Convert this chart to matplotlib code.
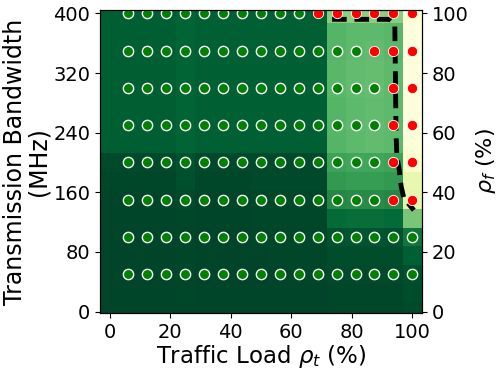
import numpy as np
import matplotlib
matplotlib.use('Agg')
import matplotlib.pyplot as plt

# grid of the heatmap: traffic load (%) and bandwidth (MHz), cell centres
load_cells = [0, 6.25, 12.5, 18.75, 25, 31.25, 37.5, 43.75, 50, 56.25,
              62.5, 68.75, 75, 81.25, 87.5, 93.75, 100]
bw_cells = [0, 25, 50, 75, 100, 125, 150, 175, 200, 225, 250, 275, 300,
            325, 350, 375, 400]

# heatmap values (0 = dark green, 1 = light yellow), one row per bandwidth, bottom row first
heat = [
    [0.00, 0.00, 0.00, 0.00, 0.00, 0.00, 0.00, 0.00, 0.00, 0.00, 0.00, 0.00, 0.01, 0.01, 0.01, 0.01, 0.02],
    [0.00, 0.00, 0.00, 0.00, 0.01, 0.00, 0.00, 0.00, 0.00, 0.00, 0.00, 0.00, 0.01, 0.01, 0.01, 0.01, 0.03],
    [0.00, 0.00, 0.00, 0.00, 0.01, 0.00, 0.00, 0.00, 0.00, 0.00, 0.01, 0.01, 0.02, 0.02, 0.02, 0.02, 0.04],
    [0.00, 0.00, 0.00, 0.00, 0.01, 0.00, 0.00, 0.00, 0.00, 0.01, 0.01, 0.01, 0.03, 0.03, 0.03, 0.03, 0.10],
    [0.00, 0.00, 0.00, 0.00, 0.01, 0.00, 0.00, 0.00, 0.01, 0.01, 0.01, 0.01, 0.05, 0.06, 0.06, 0.05, 0.18],
    [0.00, 0.00, 0.00, 0.00, 0.01, 0.00, 0.00, 0.00, 0.01, 0.01, 0.01, 0.01, 0.14, 0.15, 0.15, 0.14, 0.50],
    [0.00, 0.00, 0.00, 0.00, 0.02, 0.00, 0.00, 0.00, 0.01, 0.01, 0.01, 0.01, 0.26, 0.27, 0.27, 0.26, 0.80],
    [0.01, 0.01, 0.01, 0.01, 0.04, 0.01, 0.01, 0.01, 0.02, 0.02, 0.02, 0.02, 0.32, 0.33, 0.33, 0.32, 0.82],
    [0.02, 0.02, 0.02, 0.02, 0.05, 0.02, 0.02, 0.02, 0.02, 0.02, 0.02, 0.02, 0.35, 0.36, 0.36, 0.35, 0.92],
    [0.09, 0.09, 0.09, 0.09, 0.11, 0.10, 0.10, 0.10, 0.10, 0.10, 0.10, 0.10, 0.42, 0.44, 0.45, 0.44, 0.96],
    [0.09, 0.09, 0.09, 0.09, 0.11, 0.10, 0.10, 0.10, 0.10, 0.10, 0.10, 0.10, 0.42, 0.44, 0.45, 0.44, 0.97],
    [0.09, 0.09, 0.09, 0.09, 0.11, 0.10, 0.10, 0.10, 0.10, 0.10, 0.10, 0.10, 0.42, 0.44, 0.45, 0.44, 0.97],
    [0.09, 0.09, 0.09, 0.09, 0.11, 0.10, 0.10, 0.10, 0.10, 0.10, 0.10, 0.10, 0.43, 0.45, 0.46, 0.44, 0.97],
    [0.09, 0.09, 0.09, 0.09, 0.11, 0.10, 0.10, 0.10, 0.10, 0.10, 0.10, 0.10, 0.43, 0.45, 0.46, 0.44, 0.97],
    [0.09, 0.09, 0.09, 0.09, 0.11, 0.10, 0.10, 0.10, 0.10, 0.10, 0.10, 0.10, 0.42, 0.44, 0.45, 0.43, 0.97],
    [0.09, 0.09, 0.09, 0.09, 0.11, 0.10, 0.10, 0.10, 0.10, 0.10, 0.10, 0.10, 0.42, 0.44, 0.44, 0.43, 0.97],
    [0.09, 0.09, 0.09, 0.09, 0.11, 0.10, 0.10, 0.10, 0.10, 0.10, 0.10, 0.10, 0.54, 0.55, 0.55, 0.54, 0.95],
]

# tested operating points
load_pts = [6.25, 12.5, 18.75, 25, 31.25, 37.5, 43.75, 50, 56.25, 62.5,
            68.75, 75, 81.25, 87.5, 93.75, 100]
bw_pts = [50, 100, 150, 200, 250, 300, 350, 400]
# 1 = feasible (green), 0 = infeasible (red); one row per bandwidth, bottom first
feasible = [
    [1, 1, 1, 1, 1, 1, 1, 1, 1, 1, 1, 1, 1, 1, 1, 1],
    [1, 1, 1, 1, 1, 1, 1, 1, 1, 1, 1, 1, 1, 1, 1, 1],
    [1, 1, 1, 1, 1, 1, 1, 1, 1, 1, 1, 1, 1, 1, 0, 0],
    [1, 1, 1, 1, 1, 1, 1, 1, 1, 1, 1, 1, 1, 1, 0, 0],
    [1, 1, 1, 1, 1, 1, 1, 1, 1, 1, 1, 1, 1, 1, 0, 0],
    [1, 1, 1, 1, 1, 1, 1, 1, 1, 1, 1, 1, 1, 1, 0, 0],
    [1, 1, 1, 1, 1, 1, 1, 1, 1, 1, 1, 1, 1, 0, 0, 0],
    [1, 1, 1, 1, 1, 1, 1, 1, 1, 1, 0, 0, 0, 0, 0, 0],
]

# boundary curve in (rho_t, rho_f)
boundary_load = [73.5, 92.5, 94.2, 94.4, 94.6, 94.9, 95.6, 96.3, 97.2, 100.5]
boundary_rhof = [98.0, 98.0, 96.5, 80.0, 60.0, 52.0, 48.0, 42.0, 38.0, 34.0]

fig = plt.figure(figsize=(4.98, 3.71), dpi=100)
ax = fig.add_axes([0.201, 0.156, 0.646, 0.817])
ax2 = ax.twinx()

# heatmap
ax.pcolormesh(load_cells, bw_cells, np.array(heat), cmap='YlGn_r',
              vmin=0, vmax=1, shading='nearest', zorder=1)

# boundary line, given in rho_f units -> use the right axis transform
ax.plot(boundary_load, boundary_rhof, color='black', lw=3.5,
        dashes=(3, 1.6), transform=ax2.transData, zorder=2)

# operating points
X, Y = np.meshgrid(load_pts, bw_pts)
ok = np.array(feasible) == 1
ax.scatter(X[ok], Y[ok], s=55, c='green', edgecolors='white', linewidths=1.0, zorder=3)
ax.scatter(X[~ok], Y[~ok], s=55, c='red', edgecolors='white', linewidths=0.6, zorder=3)

ax.set_xlim(-3.125, 103.125)
ax.set_ylim(-2.1, 404.5)
ax2.set_ylim(-2.1 / 4, 404.5 / 4)

ax.set_xticks([0, 20, 40, 60, 80, 100])
ax.set_yticks([0, 80, 160, 240, 320, 400])
ax2.set_yticks([0, 20, 40, 60, 80, 100])
ax.tick_params(labelsize=14)
ax2.tick_params(labelsize=14)

ax.set_xlabel(r'Traffic Load $\rho_t$ (%)', fontsize=16.5, labelpad=1)
ax.set_ylabel('Transmission Bandwidth\n(MHz)', fontsize=17, labelpad=2, linespacing=1.0)
ax2.set_ylabel(r'$\rho_f$ (%)', fontsize=16, labelpad=4)

fig.savefig('out.png', dpi=100)
